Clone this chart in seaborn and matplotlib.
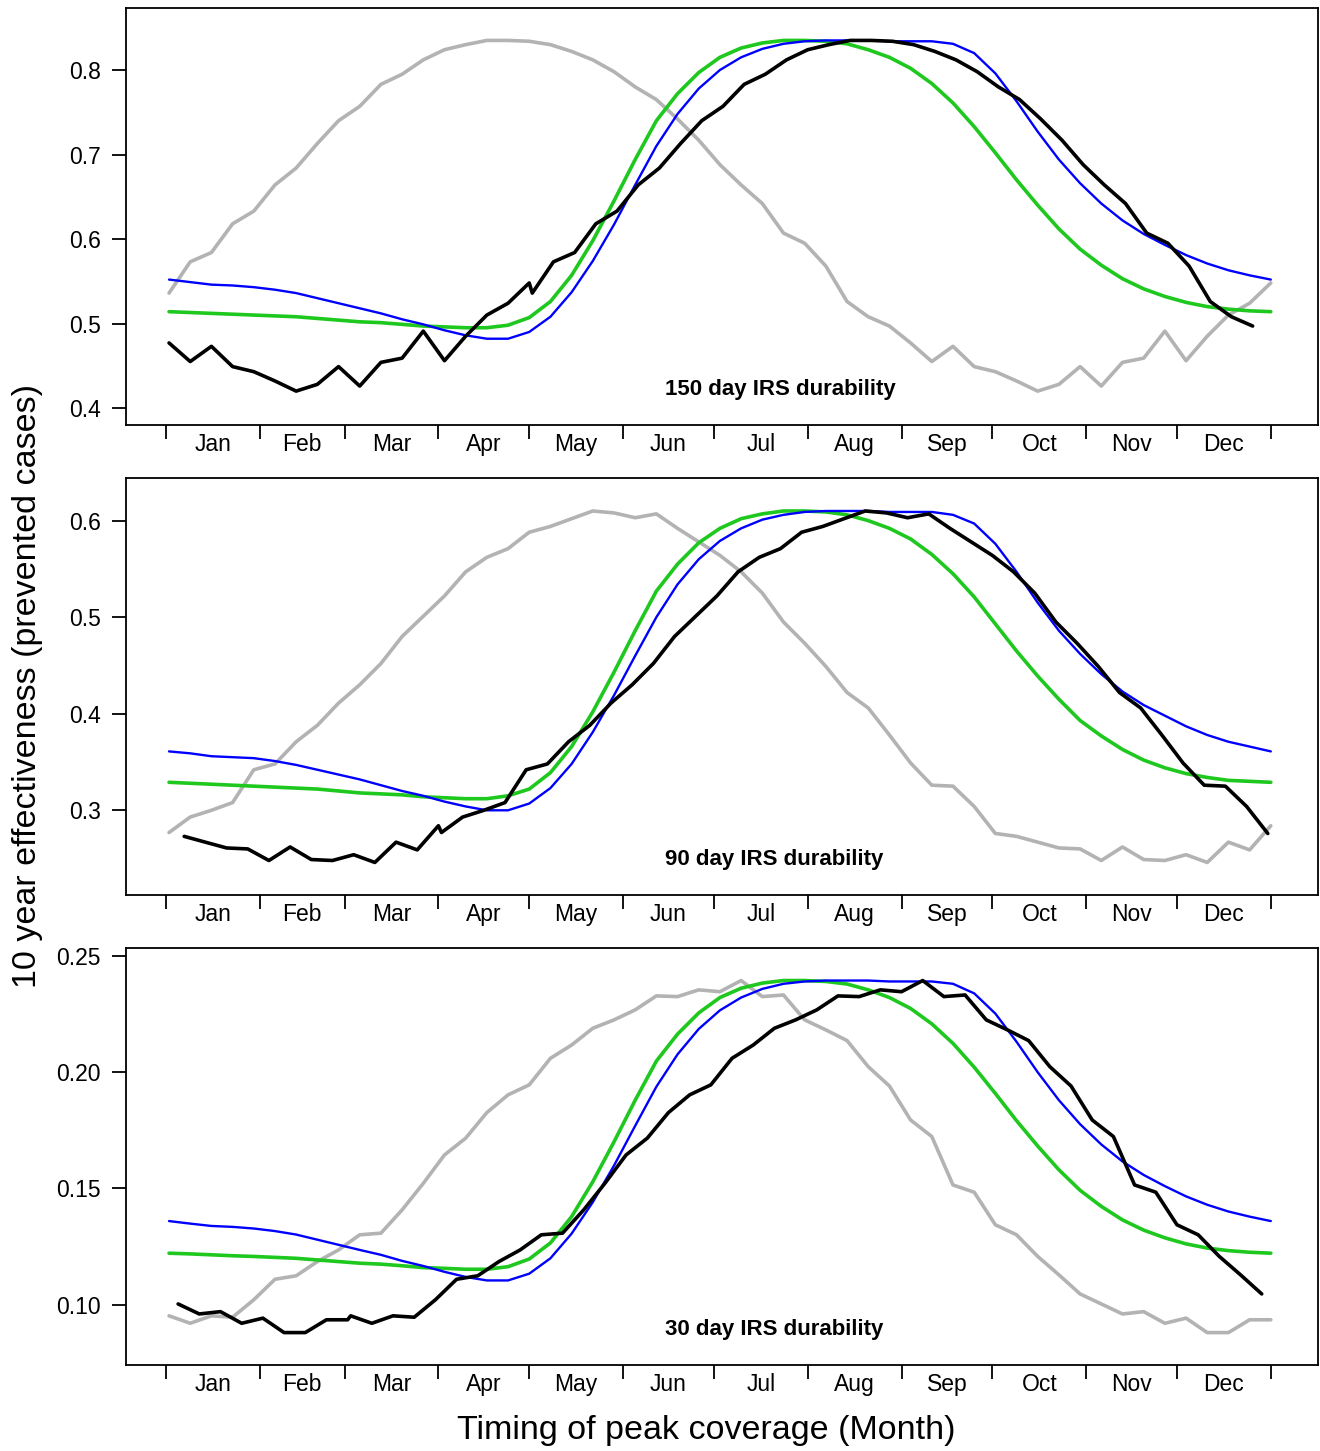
import numpy as np
import pandas as pd
import matplotlib
matplotlib.use("Agg")
import matplotlib.pyplot as plt
import matplotlib.ticker as mticker
import seaborn as sns

# weekly timing of peak coverage (day of year)
week_days = list(range(1, 366, 7))

# ---- 150 day IRS durability
gray_150 = [0.536, 0.573, 0.584, 0.618, 0.633, 0.664, 0.684, 0.713, 0.740, 0.757, 0.783, 0.795, 0.812,
            0.824, 0.830, 0.835, 0.835, 0.834, 0.830, 0.822, 0.812, 0.798, 0.780, 0.765, 0.742, 0.717,
            0.688, 0.664, 0.642, 0.607, 0.595, 0.568, 0.526, 0.508, 0.497, 0.477, 0.455, 0.473, 0.449,
            0.443, 0.432, 0.420, 0.428, 0.449, 0.426, 0.454, 0.459, 0.491, 0.456, 0.485, 0.510, 0.524, 0.548]
black_days_150 = list(range(1, 121, 7)) + list(range(121, 360, 7))
black_150 = [0.477, 0.455, 0.473, 0.449, 0.443, 0.432, 0.420, 0.428, 0.449, 0.426, 0.454, 0.459, 0.491,
             0.456, 0.485, 0.510, 0.524, 0.548,
             0.536, 0.573, 0.584, 0.618, 0.633, 0.664, 0.684, 0.713, 0.740, 0.757, 0.783, 0.795, 0.812,
             0.824, 0.830, 0.835, 0.835, 0.834, 0.830, 0.822, 0.812, 0.798, 0.780, 0.765, 0.742, 0.717,
             0.688, 0.664, 0.642, 0.607, 0.595, 0.568, 0.526, 0.508, 0.497]
blue_150 = [0.552, 0.549, 0.546, 0.545, 0.543, 0.540, 0.536, 0.530, 0.524, 0.518, 0.512, 0.505, 0.499,
            0.492, 0.486, 0.482, 0.482, 0.490, 0.508, 0.537, 0.574, 0.617, 0.664, 0.710, 0.748, 0.778,
            0.800, 0.815, 0.825, 0.831, 0.834, 0.835, 0.835, 0.835, 0.834, 0.834, 0.834, 0.831, 0.820,
            0.796, 0.763, 0.727, 0.694, 0.666, 0.642, 0.622, 0.606, 0.593, 0.581, 0.571, 0.563, 0.557, 0.552]
green_150 = [0.514, 0.513, 0.512, 0.511, 0.510, 0.509, 0.508, 0.506, 0.504, 0.502, 0.501, 0.499, 0.497,
             0.496, 0.495, 0.495, 0.498, 0.507, 0.526, 0.557, 0.598, 0.645, 0.694, 0.740, 0.772, 0.797,
             0.815, 0.826, 0.832, 0.835, 0.835, 0.834, 0.831, 0.824, 0.815, 0.802, 0.784, 0.761, 0.733,
             0.702, 0.670, 0.640, 0.612, 0.588, 0.569, 0.553, 0.541, 0.532, 0.525, 0.520, 0.517, 0.515, 0.514]

# ---- 90 day IRS durability
gray_90 = [0.277, 0.293, 0.300, 0.308, 0.342, 0.348, 0.371, 0.388, 0.411, 0.430, 0.452, 0.480, 0.501,
           0.522, 0.547, 0.562, 0.571, 0.588, 0.594, 0.602, 0.610, 0.608, 0.603, 0.607, 0.592, 0.578,
           0.564, 0.547, 0.525, 0.495, 0.473, 0.449, 0.422, 0.406, 0.378, 0.349, 0.326, 0.325, 0.304,
           0.276, 0.273, 0.267, 0.261, 0.260, 0.248, 0.262, 0.249, 0.248, 0.254, 0.246, 0.267, 0.259, 0.284]
black_days_90 = list(range(6, 91, 7)) + list(range(91, 365, 7))
black_90 = [0.273, 0.267, 0.261, 0.260, 0.248, 0.262, 0.249, 0.248, 0.254, 0.246, 0.267, 0.259, 0.284,
            0.277, 0.293, 0.300, 0.308, 0.342, 0.348, 0.371, 0.388, 0.411, 0.430, 0.452, 0.480, 0.501,
            0.522, 0.547, 0.562, 0.571, 0.588, 0.594, 0.602, 0.610, 0.608, 0.603, 0.607, 0.592, 0.578,
            0.564, 0.547, 0.525, 0.495, 0.473, 0.449, 0.422, 0.406, 0.378, 0.349, 0.326, 0.325, 0.304, 0.276]
blue_90 = [0.361, 0.359, 0.356, 0.355, 0.354, 0.351, 0.347, 0.342, 0.337, 0.332, 0.326, 0.320, 0.315,
           0.309, 0.304, 0.300, 0.300, 0.307, 0.323, 0.348, 0.381, 0.419, 0.460, 0.500, 0.534, 0.560,
           0.579, 0.592, 0.601, 0.606, 0.609, 0.610, 0.610, 0.610, 0.609, 0.609, 0.609, 0.606, 0.597,
           0.576, 0.547, 0.515, 0.486, 0.462, 0.441, 0.423, 0.409, 0.398, 0.387, 0.378, 0.371, 0.366, 0.361]
green_90 = [0.329, 0.328, 0.327, 0.326, 0.325, 0.324, 0.323, 0.322, 0.320, 0.318, 0.317, 0.316, 0.314,
            0.313, 0.312, 0.312, 0.315, 0.322, 0.339, 0.366, 0.402, 0.443, 0.486, 0.527, 0.555, 0.577,
            0.592, 0.602, 0.607, 0.610, 0.610, 0.609, 0.606, 0.600, 0.592, 0.581, 0.565, 0.545, 0.521,
            0.493, 0.465, 0.439, 0.415, 0.393, 0.377, 0.363, 0.352, 0.344, 0.338, 0.334, 0.331, 0.330, 0.329]

# ---- 30 day IRS durability
gray_30 = [0.0953, 0.0921, 0.0953, 0.0947, 0.1022, 0.1110, 0.1125, 0.1186, 0.1236, 0.1301, 0.1308,
           0.1408, 0.1522, 0.1644, 0.1716, 0.1826, 0.1902, 0.1945, 0.2059, 0.2116, 0.2188, 0.2224,
           0.2267, 0.2327, 0.2324, 0.2353, 0.2345, 0.2393, 0.2324, 0.2331, 0.2224, 0.2181, 0.2135,
           0.2023, 0.1940, 0.1794, 0.1723, 0.1515, 0.1484, 0.1344, 0.1301, 0.1208, 0.1129, 0.1047,
           0.1004, 0.0961, 0.0971, 0.0921, 0.0943, 0.0881, 0.0881, 0.0936, 0.0936]
black_days_30 = list(range(4, 61, 7)) + list(range(61, 363, 7))
black_30 = [0.1004, 0.0961, 0.0971, 0.0921, 0.0943, 0.0881, 0.0881, 0.0936, 0.0936,
            0.0953, 0.0921, 0.0953, 0.0947, 0.1022, 0.1110, 0.1125, 0.1186, 0.1236, 0.1301, 0.1308,
            0.1408, 0.1522, 0.1644, 0.1716, 0.1826, 0.1902, 0.1945, 0.2059, 0.2116, 0.2188, 0.2224,
            0.2267, 0.2327, 0.2324, 0.2353, 0.2345, 0.2393, 0.2324, 0.2331, 0.2224, 0.2181, 0.2135,
            0.2023, 0.1940, 0.1794, 0.1723, 0.1515, 0.1484, 0.1344, 0.1301, 0.1208, 0.1129, 0.1047]
blue_30 = [0.1360, 0.1349, 0.1339, 0.1335, 0.1328, 0.1317, 0.1302, 0.1280, 0.1258, 0.1236, 0.1215,
           0.1189, 0.1167, 0.1142, 0.1120, 0.1105, 0.1105, 0.1134, 0.1200, 0.1306, 0.1441, 0.1598,
           0.1769, 0.1937, 0.2076, 0.2185, 0.2265, 0.2320, 0.2357, 0.2379, 0.2389, 0.2393, 0.2393,
           0.2393, 0.2389, 0.2389, 0.2389, 0.2379, 0.2338, 0.2251, 0.2130, 0.1999, 0.1879, 0.1776,
           0.1689, 0.1616, 0.1558, 0.1510, 0.1466, 0.1430, 0.1401, 0.1379, 0.1360]
green_30 = [0.1222, 0.1219, 0.1215, 0.1211, 0.1208, 0.1204, 0.1200, 0.1193, 0.1186, 0.1179, 0.1175,
            0.1168, 0.1160, 0.1157, 0.1153, 0.1153, 0.1164, 0.1197, 0.1266, 0.1379, 0.1529, 0.1700,
            0.1879, 0.2047, 0.2163, 0.2254, 0.2320, 0.2360, 0.2382, 0.2393, 0.2393, 0.2389, 0.2378,
            0.2353, 0.2320, 0.2273, 0.2207, 0.2123, 0.2021, 0.1908, 0.1791, 0.1682, 0.1580, 0.1492,
            0.1423, 0.1365, 0.1321, 0.1288, 0.1262, 0.1244, 0.1233, 0.1226, 0.1222]

month_starts = [0, 31, 59, 90, 120, 151, 181, 212, 243, 273, 304, 334, 365]
month_labels = ["Jan", "Feb", "Mar", "Apr", "May", "Jun", "Jul", "Aug", "Sep", "Oct", "Nov", "Dec"]

panels = [
    ("150 day IRS durability", gray_150, black_days_150, black_150, blue_150, green_150,
     [0.4, 0.5, 0.6, 0.7, 0.8], (0.3799, 0.8734), "%.1f"),
    ("90 day IRS durability", gray_90, black_days_90, black_90, blue_90, green_90,
     [0.3, 0.4, 0.5, 0.6], (0.2123, 0.6442), "%.1f"),
    ("30 day IRS durability", gray_30, black_days_30, black_30, blue_30, green_30,
     [0.10, 0.15, 0.20, 0.25], (0.0742, 0.2533), "%.2f"),
]

sns.set_theme(style="ticks")
plt.rcParams["font.family"] = ["Liberation Sans", "DejaVu Sans"]
plt.rcParams["axes.linewidth"] = 1.3

fig = plt.figure(figsize=(13.2, 14.51), dpi=100)
bottoms = [0.7071, 0.3832, 0.0593]
mids = (np.array(month_starts[:-1]) + np.array(month_starts[1:])) / 2.0

for (title, gray, bdays, black, blue, green, yt, ylim, fmt), b in zip(panels, bottoms):
    ax = fig.add_axes([0.0955, b, 0.903, 0.2874])
    df = pd.DataFrame({"day": week_days, "gray": gray, "blue": blue, "green": green})
    dfb = pd.DataFrame({"day": bdays, "black": black})
    sns.lineplot(data=df, x="day", y="gray", ax=ax, color="#b3b3b3", linewidth=2.6)
    sns.lineplot(data=df, x="day", y="green", ax=ax, color="#1ec81e", linewidth=2.6)
    sns.lineplot(data=df, x="day", y="blue", ax=ax, color="#0000ff", linewidth=1.7)
    sns.lineplot(data=dfb, x="day", y="black", ax=ax, color="black", linewidth=2.6)

    ax.set_xlim(-13.2, 380.6)
    ax.set_ylim(*ylim)
    ax.set_yticks(yt)
    ax.yaxis.set_major_formatter(mticker.FormatStrFormatter(fmt))
    ax.set_xticks(month_starts)
    ax.set_xticklabels([""] * len(month_starts))
    ax.set_xticks(mids, minor=True)
    ax.set_xticklabels(month_labels, minor=True)
    ax.tick_params(axis="x", which="major", length=10, width=1.3, direction="out", color="black")
    ax.tick_params(axis="x", which="minor", length=0, pad=6, labelsize=16.5, labelcolor="black")
    ax.tick_params(axis="y", length=10, width=1.3, direction="out", pad=8, labelsize=16.5,
                   labelcolor="black", color="black")
    for s in ax.spines.values():
        s.set_visible(True)
        s.set_color("black")
    ax.set_xlabel("")
    ax.set_ylabel("")
    ax.text(165, 0.084, title, transform=ax.get_xaxis_transform(), ha="left", va="center",
            fontsize=16, fontweight="bold", color="black")

fig.text(0.021, 0.527, "10 year effectiveness (prevented cases)", rotation=90, ha="center",
         va="center", fontsize=24.5, color="black")
fig.text(0.535, 0.014, "Timing of peak coverage (Month)", ha="center", va="center",
         fontsize=24.5, color="black")

fig.savefig("out.png", dpi=100)
